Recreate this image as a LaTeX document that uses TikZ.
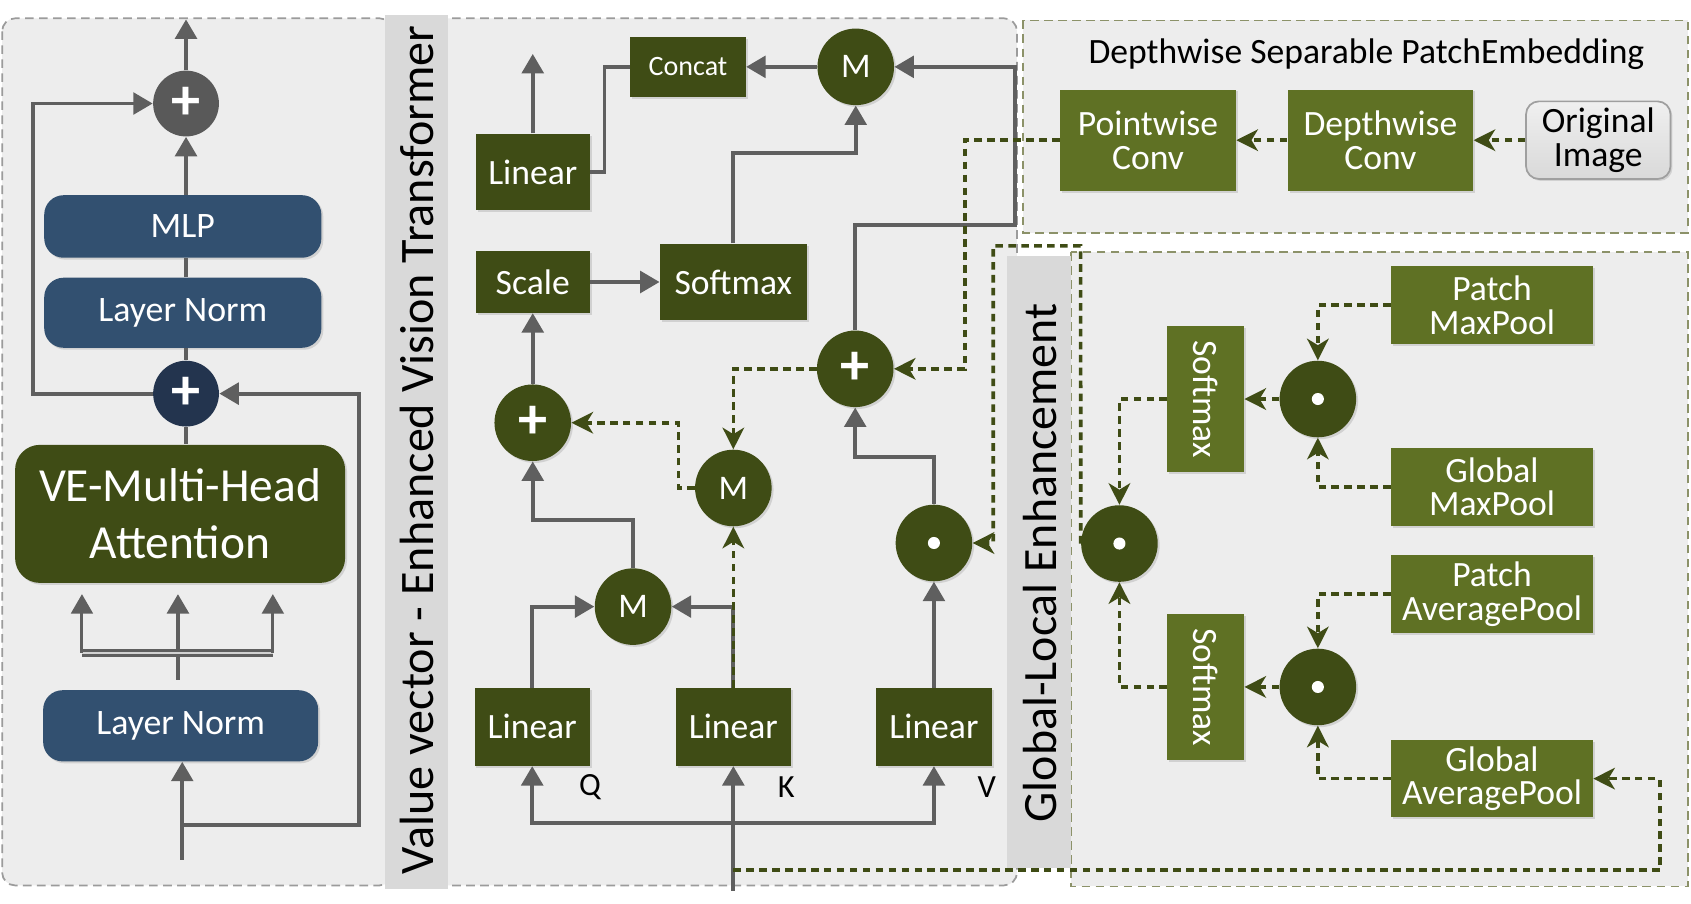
\documentclass[tikz,border=0pt]{standalone}
\usepackage{fontspec}
\setmainfont{Carlito}
\usepackage{graphicx}
\usetikzlibrary{arrows.meta,calc,shadows}
\definecolor{olivedk}{RGB}{63,76,21}
\definecolor{olivelt}{RGB}{95,113,36}
\definecolor{blueboxc}{RGB}{50,80,112}
\definecolor{navyc}{RGB}{35,52,78}
\definecolor{linegray}{RGB}{95,95,95}
\definecolor{topplus}{RGB}{89,89,89}
\definecolor{panelfill}{RGB}{237,237,237}
\definecolor{stripfill}{RGB}{217,217,217}
\definecolor{panelborder}{RGB}{155,155,155}
\definecolor{oliveborder}{RGB}{140,146,105}
\begin{document}
\begin{tikzpicture}[x=0.5pt,y=-0.5pt,
  solidline/.style={draw=linegray, line width=1.8pt},
  conn/.style={solidline, -{Triangle[length=9pt,width=10pt]}},
  dconn/.style={draw=olivedk, line width=1.7pt, dash pattern=on 3.5pt off 2.5pt, -{Stealth[length=10pt,width=10pt,inset=3pt]}},
  shad/.style={drop shadow={shadow xshift=0.9pt,shadow yshift=-0.9pt,opacity=0.25}},
  dkbox/.style={rectangle, fill=olivedk, text=white, inner sep=0pt, align=center, font=\fontsize{16.5}{16}\selectfont, shad},
  ltbox/.style={rectangle, fill=olivelt, text=white, inner sep=0pt, align=center, font=\fontsize{16.5}{15.5}\selectfont, shad},
  opnode/.style={circle, fill=olivedk, text=white, inner sep=0pt, minimum size=35.5pt, shad},
  plusfont/.style={font=\fontsize{27}{27}\selectfont\bfseries},
  mfont/.style={font=\fontsize{16}{16}\selectfont},
  bluebox/.style={rectangle, rounded corners=9pt, fill=blueboxc, text=white, inner sep=0pt, font=\fontsize{16.6}{16.6}\selectfont, shad},
  panelL/.style={draw=panelborder, fill=panelfill, line width=0.8pt, dash pattern=on 4pt off 2.5pt, rounded corners=6pt},
  panelO/.style={draw=oliveborder, fill=panelfill, line width=0.9pt, dash pattern=on 4pt off 2.5pt},
  qkv/.style={font=\fontsize{15}{15}\selectfont}
]
\useasboundingbox (0,0) rectangle (1568,838);
\fill[white] (0,0) rectangle (1568,838);

% ---------- panels ----------
\draw[panelL] (2,17) rectangle (364,821);
\draw[panelL] (400,17) rectangle (943,821);
\fill[stripfill] (357,14) rectangle (415,824);
\node[rotate=90, font=\fontsize{22.3}{22.3}\selectfont] (vtitle) at (387,417) {Value vector - Enhanced Vision Transformer};
\draw[panelO] (949,19) rectangle (1565,216);
\draw[panelO] (993,234) rectangle (1565,822);
\fill[stripfill] (934,237) rectangle (993,805);
\node[rotate=90, font=\fontsize{22.2}{22.2}\selectfont] (gtitle) at (964,522) {Global-Local Enhancement};

% ---------- left column ----------
\node[circle, fill=topplus, text=white, inner sep=0pt, minimum size=30.5pt, plusfont] (plusTop) at (172.5,96) {+};
\node[bluebox, minimum width=128.5pt, minimum height=29pt] (mlp) at (169.5,210) {MLP};
\node[bluebox, minimum width=128.5pt, minimum height=32.5pt] (ln1) at (169.5,290) {Layer Norm};
\node[circle, fill=navyc, text=white, inner sep=0pt, minimum size=30.5pt, plusfont] (plusLow) at (172.5,365) {+};
\node[rectangle, rounded corners=11.5pt, fill=olivedk, text=white, inner sep=0pt, align=center,
      minimum width=153pt, minimum height=64pt, font=\fontsize{22}{26.5}\selectfont, shad] (vemha) at (167,476.5) {VE-Multi-Head\\Attention};
\node[bluebox, minimum width=127.5pt, minimum height=33pt] (ln2) at (167.5,673) {Layer Norm};

\coordinate (outTop) at (172.5,18);
\coordinate (loopL) at (31,96);
\coordinate (inBot) at (169,797);
\coordinate (branchR) at (333,765);
\coordinate (fanC) at (165,630.5);
\coordinate (fanL) at (76,605.5);
\coordinate (fanR) at (253,605.5);

\draw[conn] (plusTop.north) -- (outTop);
\draw[conn] (plusTop.south |- mlp.north) -- (plusTop.south);
\draw[solidline] (plusTop.south |- ln1.north) -- (plusTop.south |- mlp.south);
\draw[solidline] (plusLow.north) -- (plusLow.north |- ln1.south);
\draw[solidline] (plusLow.south) -- (plusLow.south |- vemha.north);
\draw[conn] (plusLow.west) -| (loopL) -- (plusTop.west);
\draw[conn] (inBot) -- (inBot |- ln2.south);
\draw[conn] (inBot |- branchR) -- (branchR) |- (plusLow.east);
\draw[conn, shorten >=5pt] (fanC) -- (fanC |- vemha.south);
\draw[draw=linegray, line width=1.6pt, double=gray!35, double distance=0.7pt] (fanL) -- (fanR);
\draw[conn, line width=1.4pt, shorten >=5pt] (fanL) -- (fanL |- vemha.south);
\draw[conn, line width=1.4pt, shorten >=5pt] (fanR) -- (fanR |- vemha.south);

% ---------- middle panel ----------
\node[dkbox, minimum width=53.5pt, minimum height=28pt, font=\fontsize{13}{13}\selectfont] (concat) at (638,62) {Concat};
\node[opnode, mfont] (mTop) at (793.5,62) {M};
\node[dkbox, minimum width=53pt, minimum height=35.5pt] (linTop) at (494,159.5) {Linear};
\node[dkbox, minimum width=53pt, minimum height=28.5pt] (scale) at (494,261.5) {Scale};
\node[dkbox, minimum width=68pt, minimum height=35.5pt] (softM) at (680,261.5) {Softmax};
\node[opnode, plusfont] (plusL) at (494,392) {+};
\node[opnode, plusfont] (plusR) at (793,342) {+};
\node[opnode, mfont] (mMid) at (680,452.5) {M};
\node[opnode, mfont] (mLow) at (587,562.5) {M};
\node[opnode] (odotM) at (866,503.5) {};
\node[dkbox, minimum width=53.5pt, minimum height=36pt] (linQ) at (493.5,674) {Linear};
\node[dkbox, minimum width=53.5pt, minimum height=36pt] (linK) at (680,674) {Linear};
\node[dkbox, minimum width=53.5pt, minimum height=36pt] (linV) at (866,674) {Linear};
\node[qkv] (labQ) at (547,730) {Q};
\node[qkv] (labK) at (729,730) {K};
\node[qkv] (labV) at (915,730) {V};

\coordinate (outMid) at (494,50);
\coordinate (cc) at (560.5,62);
\coordinate (rj) at (941,208.5);
\coordinate (sjY) at (0,142);
\coordinate (mlY) at (0,482);
\coordinate (mxC) at (629,392);
\coordinate (ojY) at (0,423.5);
\coordinate (inMid) at (680,826);
\coordinate (qvY) at (0,763);

\draw[conn] (linTop.north) -- (outMid);
\draw[solidline] (linTop.east) -| (cc) -- (concat.west);
\draw[conn] (mTop.west) -- (concat.east);
\draw[conn] (plusR.north) |- (rj) |- (mTop.east);
\draw[conn] (softM.north) -- (softM.north |- sjY) -| (mTop.south);
\draw[conn] (scale.east) -- (softM.west);
\draw[conn] (plusL.north) -- (scale.south);
\draw[conn] (mLow.north) -- (mLow.north |- mlY) -| (plusL.south);
\draw[conn] (linQ.north) |- (mLow.west);
\draw[conn] (linK.north) |- (mLow.east);
\draw[dconn] (linK.north) -- (mMid.south);
\draw[dconn] (mMid.west) -| (mxC) -- (plusL.east);
\draw[dconn] (plusR.west) -| (mMid.north);
\draw[conn] (odotM.north) -- (odotM.north |- ojY) -| (plusR.south);
\draw[conn] (linV.north) -- (odotM.south);
\draw[conn] (inMid) -- (linK.south);
\draw[conn] (inMid |- qvY) -| (linQ.south);
\draw[conn] (inMid |- qvY) -| (linV.south);

% ---------- patch embedding ----------
\node[font=\fontsize{16.5}{16}\selectfont] (dtitle) at (1267,50) {Depthwise Separable PatchEmbedding};
\node[ltbox, minimum width=81.5pt, minimum height=47pt] (pointw) at (1064.5,130) {Pointwise\\Conv};
\node[ltbox, minimum width=86pt, minimum height=47pt] (depthw) at (1280,130) {Depthwise\\Conv};
\node[rectangle, rounded corners=6pt, draw=gray!75, line width=0.8pt, top color=gray!12, bottom color=gray!30,
      inner sep=0pt, align=center, minimum width=67pt, minimum height=36pt, font=\fontsize{16.5}{15.5}\selectfont, shad] (orig) at (1482,130) {Original\\Image};
\draw[dconn] (orig.west) -- (depthw.east);
\draw[dconn] (depthw.west) -- (pointw.east);
\coordinate (pj) at (894.5,342);
\draw[dconn] (pointw.west) -| (pj) -- (plusR.east);

% ---------- global-local enhancement ----------
\node[ltbox, minimum width=93.5pt, minimum height=36pt] (pmp) at (1383.5,283) {Patch\\MaxPool};
\node[ltbox, minimum width=93.5pt, minimum height=36pt] (gmp) at (1383.5,451.5) {Global\\MaxPool};
\node[ltbox, minimum width=93.5pt, minimum height=36pt] (pap) at (1383.5,551) {Patch\\AveragePool};
\node[ltbox, minimum width=93.5pt, minimum height=36pt] (gap) at (1383.5,722) {Global\\AveragePool};
\node[ltbox, minimum width=35.5pt, minimum height=68pt] (smU) at (1118,370) {\rotatebox{-90}{Softmax}};
\node[ltbox, minimum width=35.5pt, minimum height=68pt] (smL) at (1118,637) {\rotatebox{-90}{Softmax}};
\node[opnode] (odotU) at (1222,370) {};
\node[opnode] (odotL) at (1222,637) {};
\node[opnode] (odotG) at (1038,504) {};

\draw[dconn] (pmp.west) -| (odotU.north);
\draw[dconn] (gmp.west) -| (odotU.south);
\draw[dconn] (odotU.west) -- (smU.east);
\draw[dconn] (smU.west) -| (odotG.north);
\draw[dconn] (pap.west) -| (odotL.north);
\draw[dconn] (gap.west) -| (odotL.south);
\draw[dconn] (odotL.west) -- (smL.east);
\draw[dconn] (smL.west) -| (odotG.south);

\coordinate (gA) at (1002,228);
\coordinate (gB) at (921,503.5);
\draw[dconn] (odotG.west) -- (gA) -| (gB) -- (odotM.east);
\coordinate (bA) at (1539,807);
\draw[dconn] (inMid |- bA) -- (bA) |- (gap.east);

% dots of the element-wise products
\foreach \n in {odotM,odotU,odotL,odotG} \fill[white] (\n.center) circle (2.8pt);
\end{tikzpicture}
\end{document}
